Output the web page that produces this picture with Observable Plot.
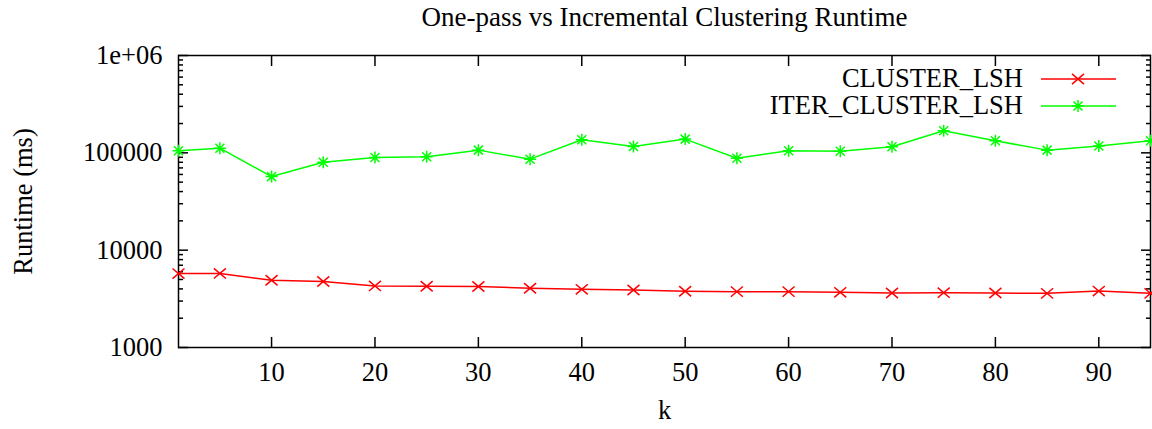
<!DOCTYPE html>
<html>
<head>
<meta charset="utf-8">
<script src="https://cdn.jsdelivr.net/npm/d3@7"></script>
<script src="https://cdn.jsdelivr.net/npm/@observablehq/plot@0.6"></script>
<style>
  body { margin: 0; background: #fff; }
  #chart { width: 1152px; height: 429px; }
</style>
</head>
<body>
<div id="chart"></div>
<script>
// Number of clusters k
const k = [1, 5, 10, 15, 20, 25, 30, 35, 40, 45, 50, 55, 60, 65, 70, 75, 80, 85, 90, 95];

// Runtime in milliseconds for each algorithm
const clusterLsh = [5750, 5770, 4910, 4760, 4290, 4260, 4230, 4060, 3960, 3900,
                    3780, 3750, 3750, 3690, 3630, 3660, 3630, 3600, 3800, 3600];
const iterClusterLsh = [105000, 111700, 57000, 80200, 89500, 91000, 106600, 86100, 136100, 116100,
                        138400, 88100, 105000, 104000, 115300, 168700, 133000, 106600, 117300, 133000];

const seriesNames = ["CLUSTER_LSH", "ITER_CLUSTER_LSH"];
const seriesColors = ["#ff0000", "#00ff00"];

const xTicks = [10, 20, 30, 40, 50, 60, 70, 80, 90];
const yTicks = [1000, 10000, 100000, 1000000];
const yTickLabels = ["1000", "10000", "100000", "1e+06"];
const yMinorTicks = [1000, 10000, 100000].flatMap(d => [2, 3, 4, 5, 6, 7, 8, 9].map(m => d * m));

const title = "One-pass vs Incremental Clustering Runtime";
const xLabel = "k";
const yLabel = "Runtime (ms)";

// Point markers: a diagonal cross and an eight-armed star
const crossMark = {
  draw(context, size) {
    const r = Math.sqrt(size / Math.PI);
    context.moveTo(-r, -r * 0.85); context.lineTo(r, r * 0.85);
    context.moveTo(-r, r * 0.85); context.lineTo(r, -r * 0.85);
  }
};
const starMark = {
  draw(context, size) {
    const r = Math.sqrt(size / Math.PI);
    const d = r * 0.75;
    context.moveTo(-r, 0); context.lineTo(r, 0);
    context.moveTo(0, -r); context.lineTo(0, r);
    context.moveTo(-d, -d); context.lineTo(d, d);
    context.moveTo(-d, d); context.lineTo(d, -d);
  }
};
const seriesSymbols = [crossMark, starMark];
const markerRadius = 6;

const rows = k.flatMap((kv, i) => [
  {k: kv, runtime: clusterLsh[i], series: seriesNames[0]},
  {k: kv, runtime: iterClusterLsh[i], series: seriesNames[1]}
]);

const font = "Liberation Serif";
const fontSize = 26.5;
const titleSize = 27;
const noText = () => "";

const chart = Plot.plot({
  width: 1152,
  height: 429,
  marginLeft: 178,
  marginRight: 2,
  marginTop: 55,
  marginBottom: 82,
  style: {fontFamily: font, fontSize: `${fontSize}px`, background: "#fff", color: "#000", overflow: "visible"},
  x: {domain: [1, 95]},
  y: {type: "log", domain: [1000, 1000000]},
  color: {domain: seriesNames, range: seriesColors},
  symbol: {domain: seriesNames, range: seriesSymbols},
  marks: [
    // x axis: labels below, inward ticks on bottom and top
    Plot.axisX(xTicks, {anchor: "bottom", tickSize: 0, tickPadding: 15, label: null, fontSize}),
    Plot.axisX(xTicks, {anchor: "bottom", tickSize: -10, tickFormat: noText, label: null, strokeWidth: 1.5}),
    Plot.axisX(xTicks, {anchor: "top", tickSize: -10, tickFormat: noText, label: null, strokeWidth: 1.5}),
    // y axis (log): labels left, inward major and minor ticks on both sides
    Plot.axisY(yTicks, {anchor: "left", tickSize: 0, tickPadding: 16, label: null, fontSize,
                        tickFormat: d => yTickLabels[yTicks.indexOf(d)]}),
    Plot.axisY(yTicks, {anchor: "left", tickSize: -10, tickFormat: noText, label: null, strokeWidth: 1.5}),
    Plot.axisY(yTicks, {anchor: "right", tickSize: -10, tickFormat: noText, label: null, strokeWidth: 1.5}),
    Plot.axisY(yMinorTicks, {anchor: "left", tickSize: -5, tickFormat: noText, label: null, strokeWidth: 1.5}),
    Plot.axisY(yMinorTicks, {anchor: "right", tickSize: -5, tickFormat: noText, label: null, strokeWidth: 1.5}),
    Plot.frame({stroke: "#000", strokeWidth: 1.5}),
    // series
    Plot.line(rows, {x: "k", y: "runtime", z: "series", stroke: "series", strokeWidth: 1.5}),
    Plot.dot(rows, {x: "k", y: "runtime", stroke: "series", symbol: "series", r: markerRadius, strokeWidth: 1.5}),
    // titles
    Plot.text([title], {frameAnchor: "top", lineAnchor: "middle", dy: -38, fontSize: titleSize}),
    Plot.text([xLabel], {frameAnchor: "bottom", lineAnchor: "middle", dy: 63, fontSize}),
    Plot.text([yLabel], {frameAnchor: "left", textAnchor: "middle", lineAnchor: "middle", dx: -155, rotate: -90, fontSize})
  ]
});

// Key in the upper right corner: name, line sample and marker per series
const svg = d3.select(chart);
const key = svg.append("g").attr("font-family", font).attr("font-size", fontSize);
seriesNames.forEach((name, i) => {
  const y = 79 + i * 27;
  key.append("text")
    .attr("x", 1023).attr("y", y).attr("dy", "0.32em")
    .attr("text-anchor", "end").attr("fill", "#000")
    .text(name);
  key.append("line")
    .attr("x1", 1041).attr("x2", 1116).attr("y1", y).attr("y2", y)
    .attr("stroke", seriesColors[i]).attr("stroke-width", 1.5);
  key.append("path")
    .attr("transform", `translate(1078,${y})`)
    .attr("d", d3.symbol(seriesSymbols[i], Math.PI * markerRadius ** 2)())
    .attr("fill", "none").attr("stroke", seriesColors[i]).attr("stroke-width", 1.5);
});

document.getElementById("chart").append(chart);
</script>
</body>
</html>
